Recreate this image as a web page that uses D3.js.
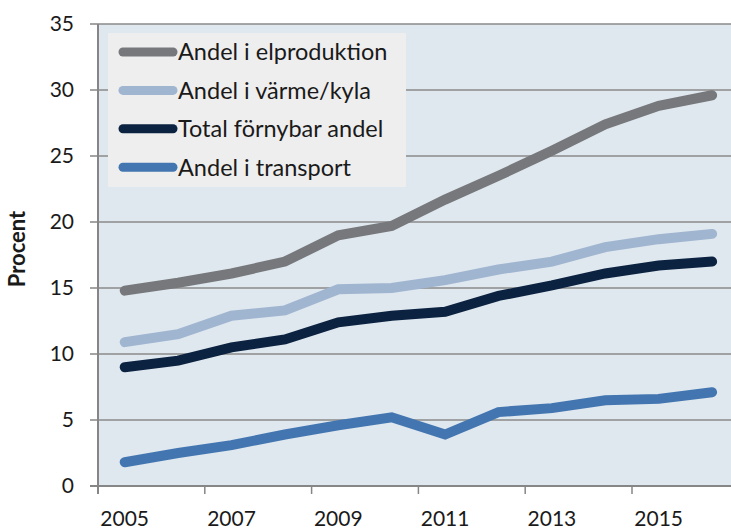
<!DOCTYPE html>
<html>
<head>
<meta charset="utf-8">
<script src="https://cdn.jsdelivr.net/npm/d3@7.9.0/dist/d3.min.js"></script>
<style>
  html, body { margin: 0; padding: 0; background: #fff; }
  svg { display: block; font-family: Lato, "Open Sans", sans-serif; }
</style>
</head>
<body>
<svg id="chart" width="731" height="529"></svg>
<script>
const years = [2005, 2006, 2007, 2008, 2009, 2010, 2011, 2012, 2013, 2014, 2015, 2016];
const elproduktion = [14.8, 15.4, 16.1, 17.0, 19.0, 19.7, 21.7, 23.5, 25.4, 27.4, 28.8, 29.6];
const varmeKyla = [10.9, 11.5, 12.9, 13.3, 14.9, 15.0, 15.6, 16.4, 17.0, 18.1, 18.7, 19.1];
const totalAndel = [9.0, 9.5, 10.5, 11.1, 12.4, 12.9, 13.2, 14.4, 15.2, 16.1, 16.7, 17.0];
const transport = [1.8, 2.5, 3.1, 3.9, 4.6, 5.2, 3.9, 5.6, 5.9, 6.5, 6.6, 7.1];
const yTicks = [0, 5, 10, 15, 20, 25, 30, 35];
const xLabels = [2005, 2007, 2009, 2011, 2013, 2015];

const series = [
  { name: 'Andel i elproduktion', values: elproduktion, color: '#76787b' },
  { name: 'Andel i värme/kyla', values: varmeKyla, color: '#a0b5d0' },
  { name: 'Total förnybar andel', values: totalAndel, color: '#0b2240' },
  { name: 'Andel i transport', values: transport, color: '#4376b0' }
];

const svg = d3.select('#chart');
const plotLeft = 98, plotTop = 24, plotBottom = 486;
const bandW = 53.4;

let x = d3.scaleBand().domain(years).range([plotLeft, plotLeft + bandW * years.length]).padding(0);
let y = d3.scaleLinear().domain([0, 35]).range([plotBottom, plotTop]);

// plot background
svg.append('rect')
  .attr('x', plotLeft).attr('y', plotTop)
  .attr('width', x.range()[1] - plotLeft).attr('height', plotBottom - plotTop)
  .attr('fill', '#dfe7ef');

// gridlines
svg.selectAll('.grid')
  .data(yTicks.filter(d => d > 0))
  .enter().append('line')
  .attr('x1', plotLeft).attr('x2', x.range()[1])
  .attr('y1', d => y(d)).attr('y2', d => y(d))
  .attr('stroke', '#8a8a8a').attr('stroke-width', 1.5);

// y axis
svg.append('line')
  .attr('x1', plotLeft).attr('x2', plotLeft)
  .attr('y1', plotTop).attr('y2', plotBottom + 8)
  .attr('stroke', '#868686').attr('stroke-width', 2);

svg.selectAll('.ytick')
  .data(yTicks)
  .enter().append('line')
  .attr('x1', plotLeft - 8).attr('x2', plotLeft)
  .attr('y1', d => y(d)).attr('y2', d => y(d))
  .attr('stroke', '#868686').attr('stroke-width', 1.5);

svg.selectAll('.ylabel')
  .data(yTicks)
  .enter().append('text')
  .attr('x', 74).attr('y', d => y(d))
  .attr('dy', '0.35em')
  .attr('text-anchor', 'end')
  .attr('font-size', 21)
  .attr('fill', '#1a1a1a')
  .text(d => d);

// x axis
svg.append('line')
  .attr('x1', plotLeft - 8).attr('x2', x.range()[1])
  .attr('y1', plotBottom).attr('y2', plotBottom)
  .attr('stroke', '#868686').attr('stroke-width', 2);

svg.selectAll('.xtick')
  .data(xLabels)
  .enter().append('line')
  .attr('x1', d => x(d)).attr('x2', d => x(d))
  .attr('y1', plotBottom).attr('y2', plotBottom + 8)
  .attr('stroke', '#868686').attr('stroke-width', 1.5);

svg.selectAll('.xlabel')
  .data(xLabels)
  .enter().append('text')
  .attr('x', d => x(d) + x.bandwidth() / 2)
  .attr('y', 526)
  .attr('text-anchor', 'middle')
  .attr('font-size', 21)
  .attr('fill', '#1a1a1a')
  .text(d => d);

// y title
svg.append('text')
  .attr('transform', 'translate(25,249) rotate(-90)')
  .attr('text-anchor', 'middle')
  .attr('font-size', 22)
  .attr('font-weight', 'bold')
  .attr('fill', '#1a1a1a')
  .text('Procent');

// lines
let lineGen = d3.line()
  .x((d, i) => x(years[i]) + x.bandwidth() / 2)
  .y(d => y(d));

svg.selectAll('.series')
  .data(series.slice().reverse())
  .enter().append('path')
  .attr('d', d => lineGen(d.values))
  .attr('fill', 'none')
  .attr('stroke', d => d.color)
  .attr('stroke-width', 10)
  .attr('stroke-linecap', 'round')
  .attr('stroke-linejoin', 'miter');

// legend
const legend = svg.append('g');
legend.append('rect')
  .attr('x', 108).attr('y', 33)
  .attr('width', 298).attr('height', 154)
  .attr('fill', '#eeeeee');

series.forEach((s, i) => {
  let ly = 52 + i * 38.4;
  legend.append('line')
    .attr('x1', 123).attr('x2', 173)
    .attr('y1', ly).attr('y2', ly)
    .attr('stroke', s.color)
    .attr('stroke-width', 9)
    .attr('stroke-linecap', 'round');
  legend.append('text')
    .attr('x', 178).attr('y', ly)
    .attr('dy', '0.36em')
    .attr('font-size', 23.5)
    .attr('fill', '#1a1a1a')
    .text(s.name);
});
</script>
</body>
</html>
